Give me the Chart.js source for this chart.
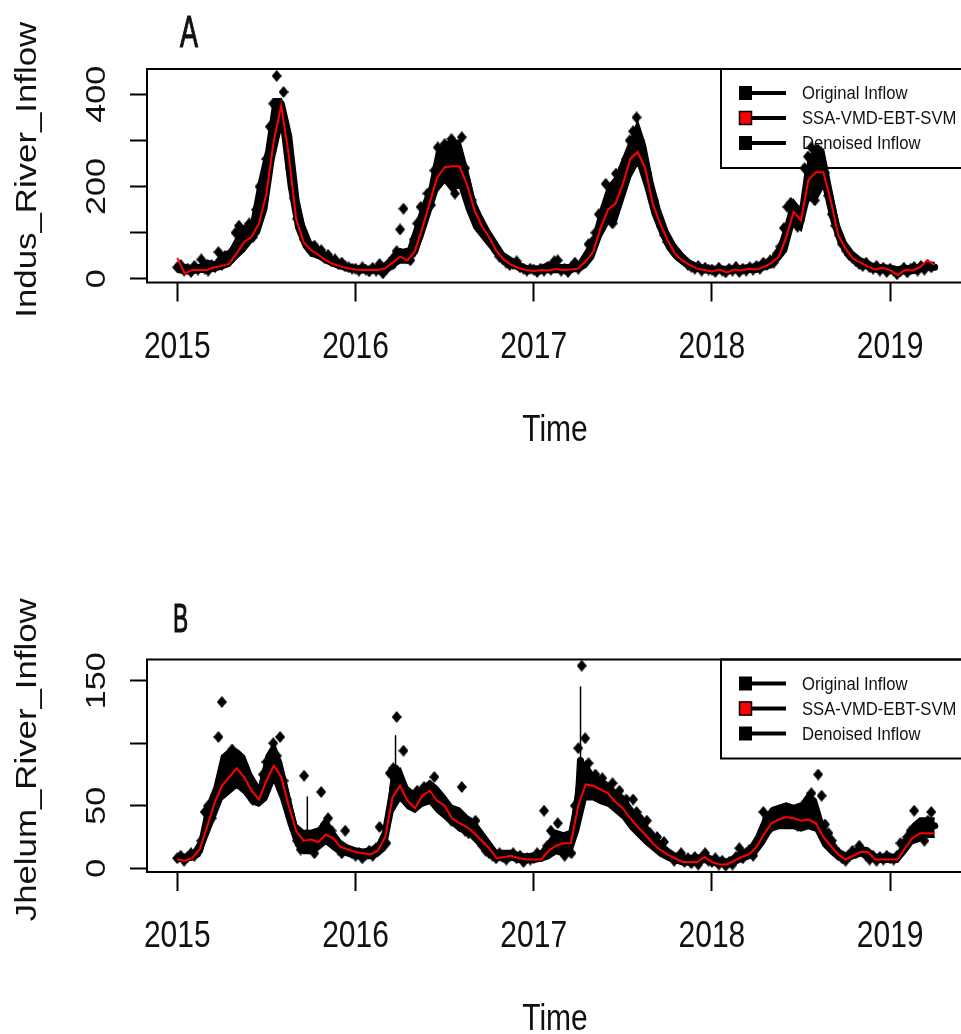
<!DOCTYPE html>
<html>
<head>
<meta charset="utf-8">
<script src="https://cdn.jsdelivr.net/npm/chart.js@4/dist/chart.umd.min.js"></script>
<style>
    body { margin: 0; background: #fff; width: 961px; height: 1034px; overflow: hidden; }
    canvas { display: block; }
</style>
</head>
<body>
<canvas id="chartA" width="980" height="517"></canvas>
<canvas id="chartB" width="980" height="517"></canvas>
<script>
// sampling: weekly for the observed inflow, half-monthly for the fitted / denoised curves
const startYear = 2015;
const weeklyCount = 221;
const halfMonthCount = 103;

const yearTicks = [2015, 2016, 2017, 2018, 2019];
const yearLabels = ['2015', '2016', '2017', '2018', '2019'];
const legendLabels = ['Original Inflow', 'SSA-VMD-EBT-SVM', 'Denoised Inflow'];

// ---- A: Indus ----
const yTicksA = [0, 100, 200, 300, 400];
const yTickLabelsA = ['0', '', '200', '', '400'];

const originalA = [
    25, 30, 18, 22, 15, 28, 20, 42, 22, 18, 30, 25, 58, 30, 50, 38, 60, 100, 115, 85, 100, 120, 90, 150, 200, 170,
    260, 330, 380, 440, 360, 405, 300, 240, 175, 130, 110, 85, 70, 60, 72, 55, 62, 45, 52, 38, 42, 32, 35, 27, 25, 22,
    22, 18, 25, 20, 16, 24, 18, 32, 12, 22, 35, 45, 60, 107, 152, 45, 40, 85, 120, 156, 140, 185, 160, 235, 285, 240,
    292, 213, 303, 185, 260, 307, 240, 170, 170, 140, 120, 110, 95, 85, 75, 60, 48, 42, 35, 30, 32, 38, 25, 22, 18, 22,
    20, 15, 22, 18, 25, 20, 38, 40, 18, 22, 15, 26, 35, 22, 30, 40, 75, 80, 100, 140, 130, 206, 170, 120, 228, 200,
    240, 260, 300, 320, 350, 300, 255, 230, 195, 170, 140, 115, 95, 80, 70, 58, 50, 45, 38, 30, 26, 22, 28, 18, 24, 20,
    20, 15, 24, 18, 14, 22, 18, 26, 15, 22, 18, 25, 20, 28, 22, 35, 30, 40, 35, 55, 70, 110, 156, 165, 130, 113,
    150, 240, 265, 285, 170, 280, 250, 230, 180, 140, 115, 95, 75, 62, 52, 45, 38, 32, 28, 35, 25, 22, 28, 18, 24, 15,
    22, 18, 10, 16, 24, 14, 22, 26, 18, 28, 20, 30, 25
];
// half-monthly spread of the daily observations (low / high)
const originalLowA = [
    15, 12, 12, 15, 15, 18, 22, 28, 45, 60, 80, 100, 150, 260, 330, 200, 110, 70, 50, 45, 35, 28, 22, 18,
    15, 14, 14, 12, 10, 25, 35, 35, 50, 90, 140, 190, 210, 190, 200, 150, 110, 90, 70, 50, 35, 28, 20, 16,
    14, 14, 14, 15, 14, 15, 18, 25, 45, 90, 120, 120, 170, 220, 250, 200, 140, 100, 65, 45, 32, 24, 18, 15,
    14, 14, 12, 14, 14, 15, 15, 20, 25, 40, 60, 120, 105, 170, 170, 200, 130, 80, 55, 38, 28, 22, 16, 15,
    15, 10, 12, 12, 16, 20, 20
];
const originalHighA = [
    30, 30, 28, 30, 40, 35, 55, 60, 90, 115, 125, 210, 280, 390, 390, 330, 190, 120, 80, 70, 55, 45, 38, 30,
    28, 25, 25, 28, 35, 50, 65, 60, 110, 160, 200, 280, 295, 300, 300, 240, 170, 135, 105, 80, 55, 45, 35, 28,
    26, 28, 35, 30, 30, 30, 35, 60, 90, 150, 200, 220, 260, 300, 340, 290, 210, 150, 105, 75, 55, 40, 32, 28,
    26, 26, 26, 28, 28, 30, 32, 38, 45, 70, 120, 170, 150, 260, 290, 280, 200, 120, 80, 58, 45, 38, 30, 30,
    28, 25, 28, 28, 30, 35, 35
];
const modelA = [
    45, 12, 19, 19, 19, 25, 28, 33, 55, 80, 91, 120, 185, 300, 375, 270, 130, 80, 62, 52, 40, 32, 27, 23,
    20, 19, 19, 19, 23, 35, 48, 40, 60, 110, 165, 220, 242, 244, 244, 205, 150, 115, 90, 60, 41, 30, 23, 19,
    17, 19, 18, 21, 19, 20, 22, 38, 58, 110, 150, 163, 205, 260, 275, 240, 165, 120, 85, 55, 40, 30, 22, 19,
    16, 20, 14, 20, 18, 22, 20, 26, 34, 48, 90, 145, 127, 215, 231, 231, 170, 95, 65, 44, 35, 27, 20, 24,
    19, 8, 19, 18, 25, 40, 30
];
const denoisedA = [
    25, 20, 20, 25, 22, 30, 35, 45, 65, 90, 105, 125, 200, 330, 380, 310, 170, 95, 68, 55, 42, 34, 28, 24,
    21, 19, 20, 22, 22, 28, 55, 60, 60, 115, 170, 230, 260, 265, 260, 215, 150, 118, 92, 62, 42, 32, 25, 22,
    19, 20, 20, 24, 20, 22, 25, 38, 65, 120, 165, 190, 230, 280, 300, 255, 180, 118, 78, 54, 40, 30, 24, 20,
    18, 20, 17, 20, 19, 22, 22, 28, 36, 55, 100, 160, 125, 240, 260, 240, 170, 100, 65, 45, 34, 27, 22, 23,
    20, 15, 20, 18, 22, 26, 25
];
const spikeTimesA = [];
const spikeLowA = [];
const spikeHighA = [];

// ---- B: Jhelum ----
const yTicksB = [0, 50, 100, 150];
const yTickLabelsB = ['0', '50', '', '150'];

const originalB = [
    8, 10, 6, 9, 12, 10, 14, 22, 45, 50, 40, 58, 105, 133, 85, 75, 95, 70, 90, 80, 65, 70, 55, 58, 60, 75,
    85, 70, 100, 90, 105, 70, 55, 42, 32, 22, 15, 74, 25, 20, 12, 25, 61, 35, 40, 30, 20, 15, 12, 30, 14, 12,
    10, 12, 8, 11, 14, 10, 16, 33, 22, 20, 76, 80, 121, 70, 94, 60, 55, 50, 62, 55, 65, 58, 60, 73, 55, 50,
    48, 42, 38, 45, 35, 65, 30, 28, 32, 38, 22, 18, 14, 12, 10, 8, 12, 9, 7, 10, 12, 8, 10, 5, 8, 7,
    8, 12, 10, 46, 18, 30, 15, 36, 22, 10, 20, 12, 50, 96, 162, 104, 84, 62, 75, 58, 72, 65, 55, 68, 58, 62,
    50, 55, 42, 55, 45, 40, 32, 38, 28, 22, 25, 18, 21, 12, 10, 6, 8, 12, 5, 8, 4, 9, 3, 8, 12, 6,
    5, 8, 3, 6, 2, 5, 3, 9, 16, 8, 12, 15, 10, 20, 25, 45, 40, 32, 45, 38, 42, 46, 36, 40, 44, 34,
    42, 48, 40, 60, 36, 75, 58, 35, 28, 22, 15, 12, 8, 6, 10, 14, 12, 18, 13, 10, 7, 10, 6, 9, 7, 10,
    8, 7, 10, 20, 20, 25, 30, 46, 28, 35, 22, 38, 45
];
const originalLowB = [
    6, 6, 7, 10, 25, 40, 55, 60, 65, 60, 52, 50, 55, 70, 55, 35, 18, 12, 12, 15, 20, 15, 12, 10,
    8, 8, 8, 10, 15, 45, 55, 48, 45, 50, 52, 45, 40, 35, 30, 28, 22, 16, 10, 7, 6, 7, 5, 5,
    5, 6, 8, 12, 10, 12, 30, 55, 55, 52, 50, 45, 40, 32, 26, 20, 15, 10, 7, 5, 3, 3, 3, 5,
    3, 2, 1, 3, 6, 8, 12, 20, 30, 32, 32, 32, 30, 32, 30, 18, 12, 7, 5, 8, 10, 10, 5, 5,
    5, 5, 12, 20, 22, 25, 25
];
const originalHighB = [
    10, 11, 12, 22, 50, 65, 90, 95, 95, 90, 75, 65, 90, 100, 85, 60, 35, 30, 30, 32, 40, 30, 22, 18,
    16, 15, 16, 20, 30, 80, 80, 65, 60, 65, 70, 65, 58, 50, 48, 42, 38, 30, 22, 14, 14, 14, 12, 11,
    12, 14, 22, 30, 28, 30, 75, 85, 75, 72, 68, 62, 58, 50, 42, 36, 28, 22, 16, 12, 10, 10, 10, 12,
    9, 8, 7, 10, 14, 16, 26, 40, 48, 50, 52, 50, 52, 60, 55, 35, 25, 15, 12, 15, 17, 16, 11, 11,
    11, 11, 22, 35, 40, 40, 40
];
const modelB = [
    7, 6, 8, 15, 33, 52, 66, 73, 80, 73, 62, 55, 70, 82, 73, 50, 30, 22, 23, 21, 27, 24, 17, 15,
    13, 12, 11, 14, 25, 57, 66, 54, 48, 58, 62, 54, 50, 40, 36, 33, 28, 22, 16, 8, 9, 10, 8, 7,
    7, 7, 14, 18, 20, 20, 50, 67, 66, 63, 60, 53, 48, 40, 33, 27, 20, 15, 11, 8, 5, 5, 5, 9,
    5, 3, 3, 6, 9, 11, 17, 27, 36, 39, 41, 40, 38, 39, 36, 25, 18, 11, 7, 10, 13, 13, 7, 7,
    7, 7, 16, 24, 28, 28, 28
];
const denoisedB = [
    8, 8, 9, 14, 35, 55, 75, 80, 78, 72, 62, 58, 70, 85, 75, 50, 28, 22, 22, 24, 28, 22, 16, 13,
    12, 12, 12, 15, 28, 62, 68, 58, 52, 58, 60, 55, 50, 42, 38, 32, 28, 22, 15, 10, 9, 9, 8, 7,
    8, 8, 14, 22, 22, 25, 55, 70, 68, 64, 60, 55, 48, 40, 34, 27, 20, 15, 10, 7, 6, 5, 6, 8,
    5, 4, 4, 7, 10, 13, 20, 32, 38, 40, 42, 40, 40, 42, 42, 28, 18, 12, 8, 11, 13, 12, 8, 8,
    8, 9, 18, 26, 30, 32, 34
];
const spikeTimesB = [2015.729, 2016.224, 2017.262];
const spikeLowB = [28, 80, 86];
const spikeHighB = [57, 106, 145];

const weekTimes = [];
for (let i = 0; i < weeklyCount; i++) weekTimes.push(startYear + i / 52);
const halfMonthTimes = [];
for (let j = 0; j < halfMonthCount; j++) halfMonthTimes.push(startYear + j / 24);

const toPoints = (times, vals) => times.map((t, i) => ({ x: t, y: vals[i] }));

// denoised line keeps a few one-day spikes: add them as vertical jumps
const withSpikes = (times, vals, sTimes, sLow, sHigh) => {
    const pts = toPoints(times, vals);
    sTimes.forEach((t, k) => {
        pts.push({ x: t, y: sLow[k] }, { x: t + 0.0004, y: sHigh[k] }, { x: t + 0.0008, y: sLow[k] });
    });
    return pts.sort((a, b) => a.x - b.x);
};

// filled diamond marker, a bit taller than wide like the source
const diamond = document.createElement('canvas');
diamond.width = 10;
diamond.height = 12;
(() => {
    const c = diamond.getContext('2d');
    c.fillStyle = '#000';
    c.beginPath();
    c.moveTo(5, 0); c.lineTo(10, 6); c.lineTo(5, 12); c.lineTo(0, 6);
    c.closePath();
    c.fill();
})();

const TXT = '#111';
const FONT = '"Liberation Sans", Arial, sans-serif';

const drawText = (ctx, s, x, y, o) => {
    ctx.save();
    ctx.translate(x, y);
    if (o.rot) ctx.rotate(o.rot);
    ctx.scale(o.sx || 1, o.sy || 1);
    ctx.font = o.size + 'px ' + FONT;
    ctx.fillStyle = TXT;
    ctx.textAlign = o.align || 'center';
    ctx.textBaseline = 'alphabetic';
    ctx.fillText(s, 0, 0);
    if (o.stroke) {
        ctx.strokeStyle = TXT;
        ctx.lineWidth = o.stroke;
        ctx.strokeText(s, 0, 0);
    }
    ctx.restore();
};

const makeChart = (id, cfg) => {
    const canvas = document.getElementById(id);
    const H = canvas.height;

    const framePlugin = {
        id: 'frame' + id,
        afterDatasetsDraw(chart) {
            const ctx = chart.ctx;
            const a = chart.chartArea;
            ctx.save();
            // legend box (not filled, points show through)
            const lt = a.top;
            ctx.strokeStyle = '#000';
            ctx.lineWidth = 2;
            ctx.strokeRect(721, lt, 300, 99);
            const rows = [24, 49, 74];
            legendLabels.forEach((lab, k) => {
                const cy = lt + rows[k];
                ctx.lineWidth = 4;
                ctx.beginPath();
                ctx.moveTo(750, cy);
                ctx.lineTo(786, cy);
                ctx.stroke();
                ctx.fillStyle = k === 1 ? '#ff0000' : '#000';
                ctx.fillRect(739, cy - 7, 13, 14);
                if (k === 1) {
                    ctx.lineWidth = 1.5;
                    ctx.strokeRect(739.5, cy - 6.5, 12, 13);
                }
                drawText(ctx, lab, 802, cy + 6, { size: 16, sx: 1.04, sy: 1.13, align: 'left' });
            });
            ctx.restore();
        },
        afterDraw(chart) {
            const ctx = chart.ctx;
            const a = chart.chartArea;
            const xs = chart.scales.x;
            const ys = chart.scales.y;
            ctx.save();
            ctx.strokeStyle = '#000';
            ctx.lineWidth = 2;
            ctx.strokeRect(a.left, a.top, a.right - a.left, a.bottom - a.top);

            yearTicks.forEach((v, i) => {
                drawText(ctx, yearLabels[i], xs.getPixelForValue(v), a.bottom + 75, { size: 30, sy: 1.2 });
            });
            cfg.yTicks.forEach((v, i) => {
                if (!cfg.yLabels[i]) return;
                drawText(ctx, cfg.yLabels[i], 105, ys.getPixelForValue(v), { size: 28, sx: 1.22, rot: -Math.PI / 2 });
            });
            drawText(ctx, 'Time', (a.left + a.right) / 2 - 1, a.bottom + 158, { size: 30, sy: 1.25 });
            drawText(ctx, cfg.yTitle, 36, (a.top + a.bottom) / 2 - 6, { size: 29, sx: 1.2, rot: -Math.PI / 2 });
            drawText(ctx, cfg.letter, cfg.letterX, cfg.letterY, { size: 30, sx: cfg.letterSx, sy: cfg.letterSy, align: 'left', stroke: 0.8 });
            ctx.restore();
        }
    };

    return new Chart(canvas, {
        type: 'line',
        data: {
            datasets: [
                {
                    label: legendLabels[1],
                    data: toPoints(halfMonthTimes, cfg.model),
                    borderColor: '#ff0000',
                    borderWidth: 2,
                    pointRadius: 0,
                    tension: 0,
                    order: 0
                },
                {
                    // thick band; the one-day spikes stay thin
                    label: legendLabels[2],
                    data: withSpikes(halfMonthTimes, cfg.denoised, cfg.spikeTimes, cfg.spikeLow, cfg.spikeHigh),
                    borderColor: '#000',
                    borderWidth: 7,
                    borderJoinStyle: 'round',
                    borderCapStyle: 'round',
                    segment: {
                        borderWidth: (c) => (c.p1.parsed.x - c.p0.parsed.x < 0.001 ? 1.5 : 7)
                    },
                    pointRadius: 0,
                    tension: 0,
                    order: 1
                },
                {
                    label: legendLabels[0],
                    data: toPoints(weekTimes, cfg.original),
                    showLine: false,
                    pointStyle: diamond,
                    pointRadius: 5,
                    borderColor: '#000',
                    backgroundColor: '#000',
                    order: 2
                },
                {
                    // dense cloud of daily points: low edge
                    label: 'low',
                    data: toPoints(halfMonthTimes, cfg.low),
                    borderColor: '#000',
                    borderWidth: 2,
                    pointRadius: 0,
                    tension: 0,
                    fill: false,
                    order: 3
                },
                {
                    label: 'high',
                    data: toPoints(halfMonthTimes, cfg.high),
                    borderColor: '#000',
                    borderWidth: 2,
                    backgroundColor: '#000',
                    pointRadius: 0,
                    tension: 0,
                    fill: '-1',
                    order: 3
                }
            ]
        },
        options: {
            responsive: false,
            animation: false,
            devicePixelRatio: 1,
            events: [],
            layout: { padding: { left: 0, right: 15, top: cfg.top, bottom: H - cfg.bottom - 40 } },
            plugins: { legend: { display: false }, tooltip: { enabled: false } },
            scales: {
                x: {
                    type: 'linear',
                    min: 2014.83,
                    max: 2019.42,
                    afterBuildTicks: (s) => { s.ticks = yearTicks.map(v => ({ value: v })); },
                    afterFit: (s) => { s.height = 40; },
                    ticks: { display: false },
                    border: { display: false },
                    grid: { drawOnChartArea: false, drawTicks: true, tickLength: 19, tickWidth: 2, tickColor: '#000' }
                },
                y: {
                    min: cfg.yMin,
                    max: cfg.yMax,
                    afterBuildTicks: (s) => { s.ticks = cfg.yTicks.map(v => ({ value: v })); },
                    afterFit: (s) => { s.width = 147; },
                    ticks: { display: false },
                    border: { display: false },
                    grid: { drawOnChartArea: false, drawTicks: true, tickLength: 17, tickWidth: 2, tickColor: '#000' }
                }
            }
        },
        plugins: [framePlugin]
    });
};

makeChart('chartA', {
    original: originalA, low: originalLowA, high: originalHighA, model: modelA, denoised: denoisedA,
    spikeTimes: spikeTimesA, spikeLow: spikeLowA, spikeHigh: spikeHighA,
    yTicks: yTicksA, yLabels: yTickLabelsA, yMin: -8, yMax: 455,
    top: 69, bottom: 282.5,
    yTitle: 'Indus_River_Inflow', letter: 'A', letterX: 180, letterY: 47, letterSx: 0.9, letterSy: 1.48
});

makeChart('chartB', {
    original: originalB, low: originalLowB, high: originalHighB, model: modelB, denoised: denoisedB,
    spikeTimes: spikeTimesB, spikeLow: spikeLowB, spikeHigh: spikeHighB,
    yTicks: yTicksB, yLabels: yTickLabelsB, yMin: -3, yMax: 167,
    top: 142.5, bottom: 355,
    yTitle: 'Jhelum_River_Inflow', letter: 'B', letterX: 173, letterY: 115, letterSx: 0.76, letterSy: 1.35
});
</script>
</body>
</html>
